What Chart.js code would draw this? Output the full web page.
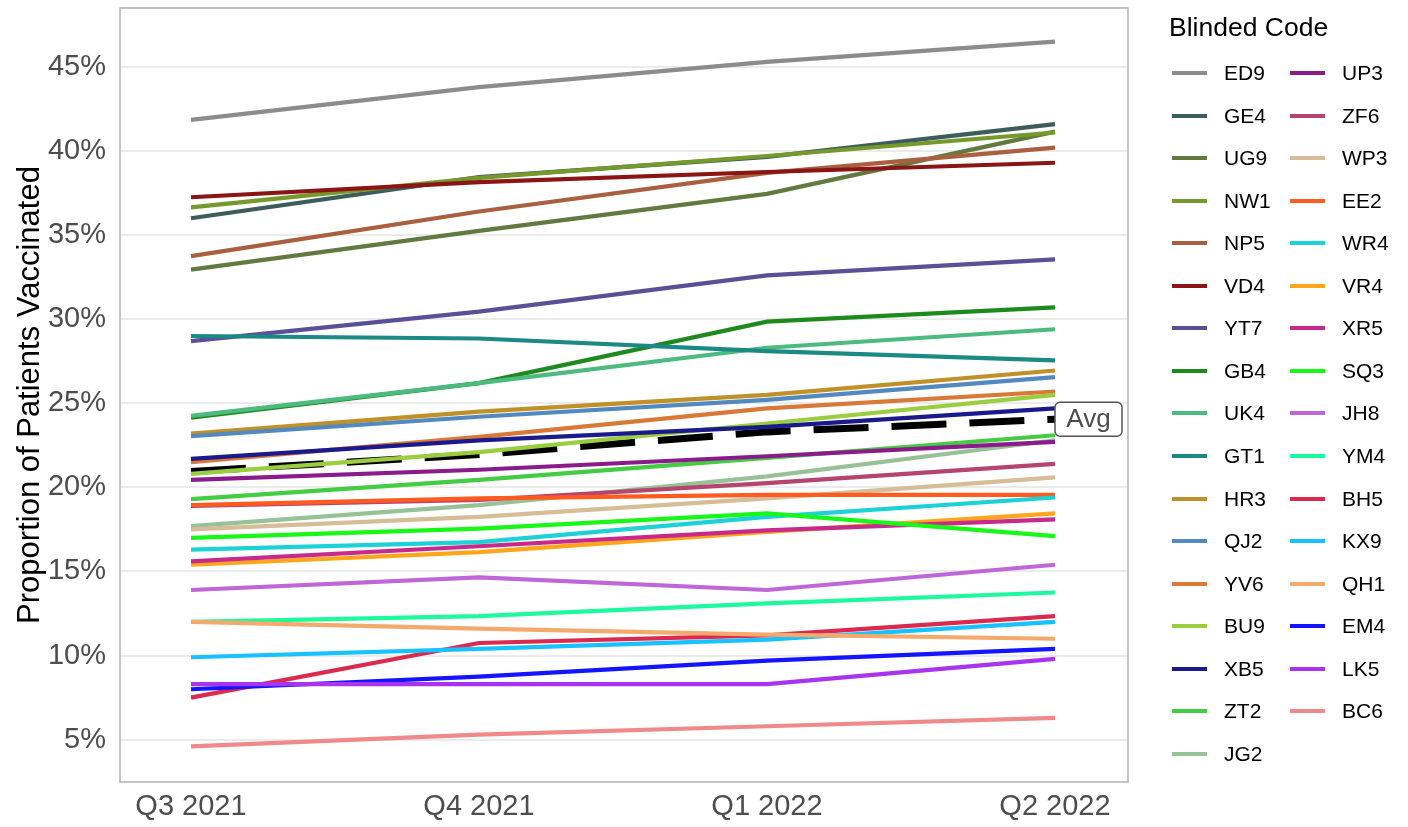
<!DOCTYPE html>
<html><head><meta charset="utf-8">
<script src="https://cdn.jsdelivr.net/npm/chart.js@4.4.1/dist/chart.umd.min.js"></script>
<style>
html,body{margin:0;padding:0;background:#fff;}
#wrap{position:relative;width:1408px;height:827px;font-family:"Liberation Sans",Arial,sans-serif;overflow:hidden;}
canvas{position:absolute;left:0;top:0;}
.leg-title{position:absolute;left:1169px;top:10px;font-size:26.5px;line-height:34px;color:#000;white-space:nowrap;}
.leg-row{position:absolute;height:30px;display:flex;align-items:center;font-size:21px;color:#000;white-space:nowrap;}
.key{width:35px;height:4px;display:inline-block;}
</style></head>
<body><div id="wrap"><canvas id="c" width="1408" height="827"></canvas><div id="legend"></div></div>
<script>
// ---- data ----
const quarters = ["Q3 2021", "Q4 2021", "Q1 2022", "Q2 2022"];
const yTickValues = [5, 10, 15, 20, 25, 30, 35, 40, 45];

const ED9 = [41.85, 43.8, 45.3, 46.5];
const GE4 = [36.0, 38.45, 39.65, 41.6];
const UG9 = [32.95, 35.25, 37.45, 41.15];
const NW1 = [36.65, 38.4, 39.7, 41.1];
const NP5 = [33.75, 36.4, 38.7, 40.2];
const VD4 = [37.25, 38.15, 38.75, 39.3];
const YT7 = [28.7, 30.45, 32.6, 33.55];
const GB4 = [24.15, 26.2, 29.85, 30.7];
const UK4 = [24.25, 26.2, 28.3, 29.4];
const GT1 = [29.0, 28.85, 28.1, 27.55];
const HR3 = [23.2, 24.5, 25.5, 26.95];
const QJ2 = [23.05, 24.2, 25.2, 26.55];
const YV6 = [21.5, 23.0, 24.7, 25.7];
const BU9 = [20.8, 22.1, 23.8, 25.5];
const XB5 = [21.7, 22.8, 23.6, 24.7];
const ZT2 = [19.3, 20.45, 21.75, 23.1];
const JG2 = [17.7, 18.95, 20.65, 22.8];
const UP3 = [20.45, 21.05, 21.85, 22.7];
const ZF6 = [18.9, 19.25, 20.25, 21.4];
const WP3 = [17.5, 18.25, 19.35, 20.6];
const EE2 = [18.95, 19.35, 19.55, 19.55];
const WR4 = [16.3, 16.75, 18.25, 19.4];
const VR4 = [15.4, 16.15, 17.35, 18.45];
const XR5 = [15.6, 16.5, 17.45, 18.1];
const SQ3 = [17.0, 17.55, 18.45, 17.1];
const JH8 = [13.9, 14.65, 13.9, 15.4];
const YM4 = [12.0, 12.35, 13.1, 13.75];
const BH5 = [7.5, 10.75, 11.2, 12.35];
const KX9 = [9.9, 10.4, 10.95, 12.0];
const QH1 = [12.0, 11.6, 11.25, 11.0];
const EM4 = [8.0, 8.75, 9.7, 10.4];
const LK5 = [8.3, 8.3, 8.3, 9.8];
const BC6 = [4.6, 5.3, 5.8, 6.3];
const AVG = [20.95, 21.95, 23.3, 24.05];

const codes = ["ED9","GE4","UG9","NW1","NP5","VD4","YT7","GB4","UK4","GT1","HR3","QJ2","YV6","BU9","XB5","ZT2","JG2",
               "UP3","ZF6","WP3","EE2","WR4","VR4","XR5","SQ3","JH8","YM4","BH5","KX9","QH1","EM4","LK5","BC6"];
const series = [ED9,GE4,UG9,NW1,NP5,VD4,YT7,GB4,UK4,GT1,HR3,QJ2,YV6,BU9,XB5,ZT2,JG2,
                UP3,ZF6,WP3,EE2,WR4,VR4,XR5,SQ3,JH8,YM4,BH5,KX9,QH1,EM4,LK5,BC6];

// ---- styles ----
const palette = ["#8c8c8c","#3d5c5c","#627a40","#76992b","#aa6040","#8b1414","#5b4f97","#1e8a1e","#4dbb80","#1b8a84",
                 "#bf9128","#5289bf","#da7838","#9acd40","#1a1a8c","#44cc44","#97c297",
                 "#8b1a8b","#b5446e","#d6bd98","#ff5a1f","#1dd2d6","#ffa51a","#c82a8c","#18f818","#bf66d9",
                 "#1dfa9e","#dc2a4e","#18c2ff","#f4aa6c","#1414ff","#a834ef","#f08a8a"];
const FONT = '"Liberation Sans", Arial, sans-serif';

const datasets = codes.map((code, i) => ({
  label: code,
  data: series[i].map((v, j) => ({x: j, y: v})),
  borderColor: palette[i],
  backgroundColor: palette[i],
  borderWidth: 4.2,
  pointRadius: 0,
  tension: 0,
  order: codes.length - i
}));
datasets.push({
  label: "Avg",
  data: AVG.map((v, j) => ({x: j, y: v})),
  borderColor: "#000",
  backgroundColor: "#000",
  borderWidth: 7,
  borderDash: [55, 23],
  pointRadius: 0,
  tension: 0,
  order: 100
});

const framePlugin = {
  id: "frame",
  afterDatasetsDraw(chart) {
    const {ctx, chartArea: a} = chart;
    ctx.save();
    ctx.strokeStyle = "#b3b3b3";
    ctx.lineWidth = 1.5;
    ctx.strokeRect(a.left, a.top, a.right - a.left, a.bottom - a.top);
    // Avg label
    const idx = chart.data.datasets.length - 1;
    const meta = chart.getDatasetMeta(idx);
    const pt = meta.data[meta.data.length - 1];
    const x = pt.x, y = pt.y;
    const w = 67, h = 34, r = 5;
    ctx.beginPath();
    ctx.roundRect(x, y - h / 2, w, h, r);
    ctx.fillStyle = "#fff";
    ctx.fill();
    ctx.strokeStyle = "#555";
    ctx.lineWidth = 1.5;
    ctx.stroke();
    ctx.fillStyle = "#4d4d4d";
    ctx.font = "26px " + FONT;
    ctx.textAlign = "center";
    ctx.textBaseline = "middle";
    ctx.fillText("Avg", x + w / 2, y + 1);
    ctx.restore();
  }
};

new Chart(document.getElementById("c"), {
  type: "line",
  data: {datasets},
  options: {
    responsive: false,
    animation: false,
    devicePixelRatio: 1,
    layout: {padding: {left: 0, top: 8, right: 280, bottom: 0}},
    plugins: {legend: {display: false}, tooltip: {enabled: false}},
    scales: {
      x: {
        type: "linear",
        min: -0.2465,
        max: 3.2535,
        afterBuildTicks: s => { s.ticks = quarters.map((q, i) => ({value: i})); },
        ticks: {
          callback: v => quarters[v],
          font: {size: 29, family: FONT},
          color: "#4d4d4d",
          padding: 8,
          maxRotation: 0,
          autoSkip: false
        },
        grid: {display: false, drawTicks: false},
        border: {display: false},
        afterFit: s => { s.height = 45; s.paddingLeft = 0; s.paddingRight = 0; }
      },
      y: {
        min: 2.485,
        max: 48.5,
        afterBuildTicks: s => { s.ticks = yTickValues.map(v => ({value: v})); },
        ticks: {
          callback: v => v + "%",
          font: {size: 29, family: FONT},
          color: "#4d4d4d",
          padding: 14
        },
        grid: {color: "#ebebeb", lineWidth: 2, drawTicks: false},
        border: {display: false},
        title: {
          display: true,
          text: "Proportion of Patients Vaccinated",
          font: {size: 31, family: FONT},
          color: "#000",
          padding: {top: 12, bottom: 0}
        },
        afterFit: s => { s.width = 120; s.paddingTop = 0; s.paddingBottom = 0; }
      }
    }
  },
  plugins: [framePlugin]
});

// ---- legend (HTML) ----
const leg = document.getElementById("legend");
const t = document.createElement("div");
t.className = "leg-title";
t.textContent = "Blinded Code";
leg.appendChild(t);
const perCol = 17;
codes.forEach((code, i) => {
  const col = Math.floor(i / perCol), row = i % perCol;
  const d = document.createElement("div");
  d.className = "leg-row";
  d.style.left = (1172 + col * 118) + "px";
  d.style.top = (73 + row * 42.56 - 15) + "px";
  const k = document.createElement("span");
  k.className = "key";
  k.style.background = palette[i];
  const l = document.createElement("span");
  l.textContent = code;
  l.style.marginLeft = "17px";
  d.appendChild(k); d.appendChild(l);
  leg.appendChild(d);
});
</script>
</body></html>
